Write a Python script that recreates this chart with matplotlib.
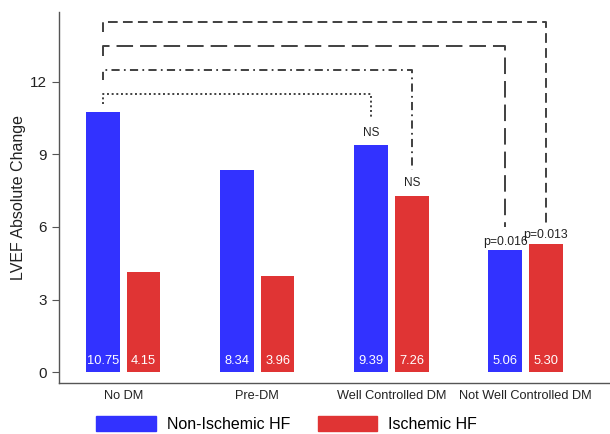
import matplotlib.pyplot as plt
import numpy as np
from matplotlib.patches import Patch

plt.rcParams['font.family'] = ['Liberation Sans', 'DejaVu Sans']

# dados
categorias = ['No DM', 'Pre-DM', 'Well Controlled DM', 'Not Well Controlled DM']
nao_isquemica = [10.75, 8.34, 9.39, 5.06]
isquemica = [4.15, 3.96, 7.26, 5.30]
series = ['Non-Ischemic HF', 'Ischemic HF']

# comparações: (grupo, série) de destino, altura da barra horizontal, fim da perna, rótulo, altura do rótulo
comp_destino = [(2, 0), (2, 1), (3, 0), (3, 1)]
comp_altura = [11.48, 12.47, 13.47, 14.46]
comp_fim = [10.55, 8.35, 5.99, 6.04]
comp_rotulo = ['NS', 'NS', 'p=0.016', 'p=0.013']
comp_rotulo_y = [9.89, 7.80, 5.39, 5.67]

azul = '#3232FF'
vermelho = '#E03434'
cinza = '#404040'

fig = plt.figure(figsize=(6.1, 4.34), dpi=100)
ax = fig.add_axes([0.0972, 0.1168, 0.9028, 0.855])

x = np.arange(len(categorias))
w = 0.25
off = 0.152
ax.bar(x - off, nao_isquemica, w, color=azul)
ax.bar(x + off, isquemica, w, color=vermelho)

# valores dentro das barras
for xs, vals in [(x - off, nao_isquemica), (x + off, isquemica)]:
    for xi, v in zip(xs, vals):
        ax.text(xi, 0.47, f'{v:.2f}', color='white', ha='center', va='center', fontsize=9.3)

# colchetes de comparação
estilos = [(0, (1, 1.4)), (0, (4.2, 2.2, 0.9, 2.2)), (0, (8.5, 3.6)), (0, (5.0, 2.7))]
x0 = x[0] - off
for (g, s), h, fim, lab, ly, ls in zip(comp_destino, comp_altura, comp_fim,
                                       comp_rotulo, comp_rotulo_y, estilos):
    x1 = x[g] + (off if s else -off)
    ax.plot([x0, x0, x1, x1], [h - 0.42, h, h, fim], color=cinza, lw=1.4,
            linestyle=ls, solid_capstyle='butt', dash_capstyle='butt')
    ax.text(x1, ly, lab, ha='center', va='center',
            fontsize=8.8 if lab.startswith('p') else 8.5, color='#222222')

ax.set_xlim(-0.477, 3.63)
ax.set_ylim(-0.454, 14.86)
ax.set_yticks([0, 3, 6, 9, 12])
ax.set_xticks(x)
ax.set_xticklabels(categorias, fontsize=9.2, color='#222222')
ax.tick_params(axis='x', length=0, pad=5)
ax.tick_params(axis='y', length=5, pad=4, labelsize=11, color='#555555', labelcolor='#222222')
ax.set_ylabel('LVEF Absolute Change', fontsize=11.5, color='#222222', labelpad=3)

for lado in ['top', 'right']:
    ax.spines[lado].set_visible(False)
for lado in ['left', 'bottom']:
    ax.spines[lado].set_color('#555555')
    ax.spines[lado].set_linewidth(1.0)

handles = [Patch(color=azul), Patch(color=vermelho)]
fig.legend(handles, series, loc='center', bbox_to_anchor=(0.47, 0.022), ncol=2,
           frameon=False, fontsize=11.5, handlelength=3.75, handleheight=1.06,
           handletextpad=0.68, columnspacing=1.7, borderpad=0)

plt.savefig('out.png', dpi=100)
